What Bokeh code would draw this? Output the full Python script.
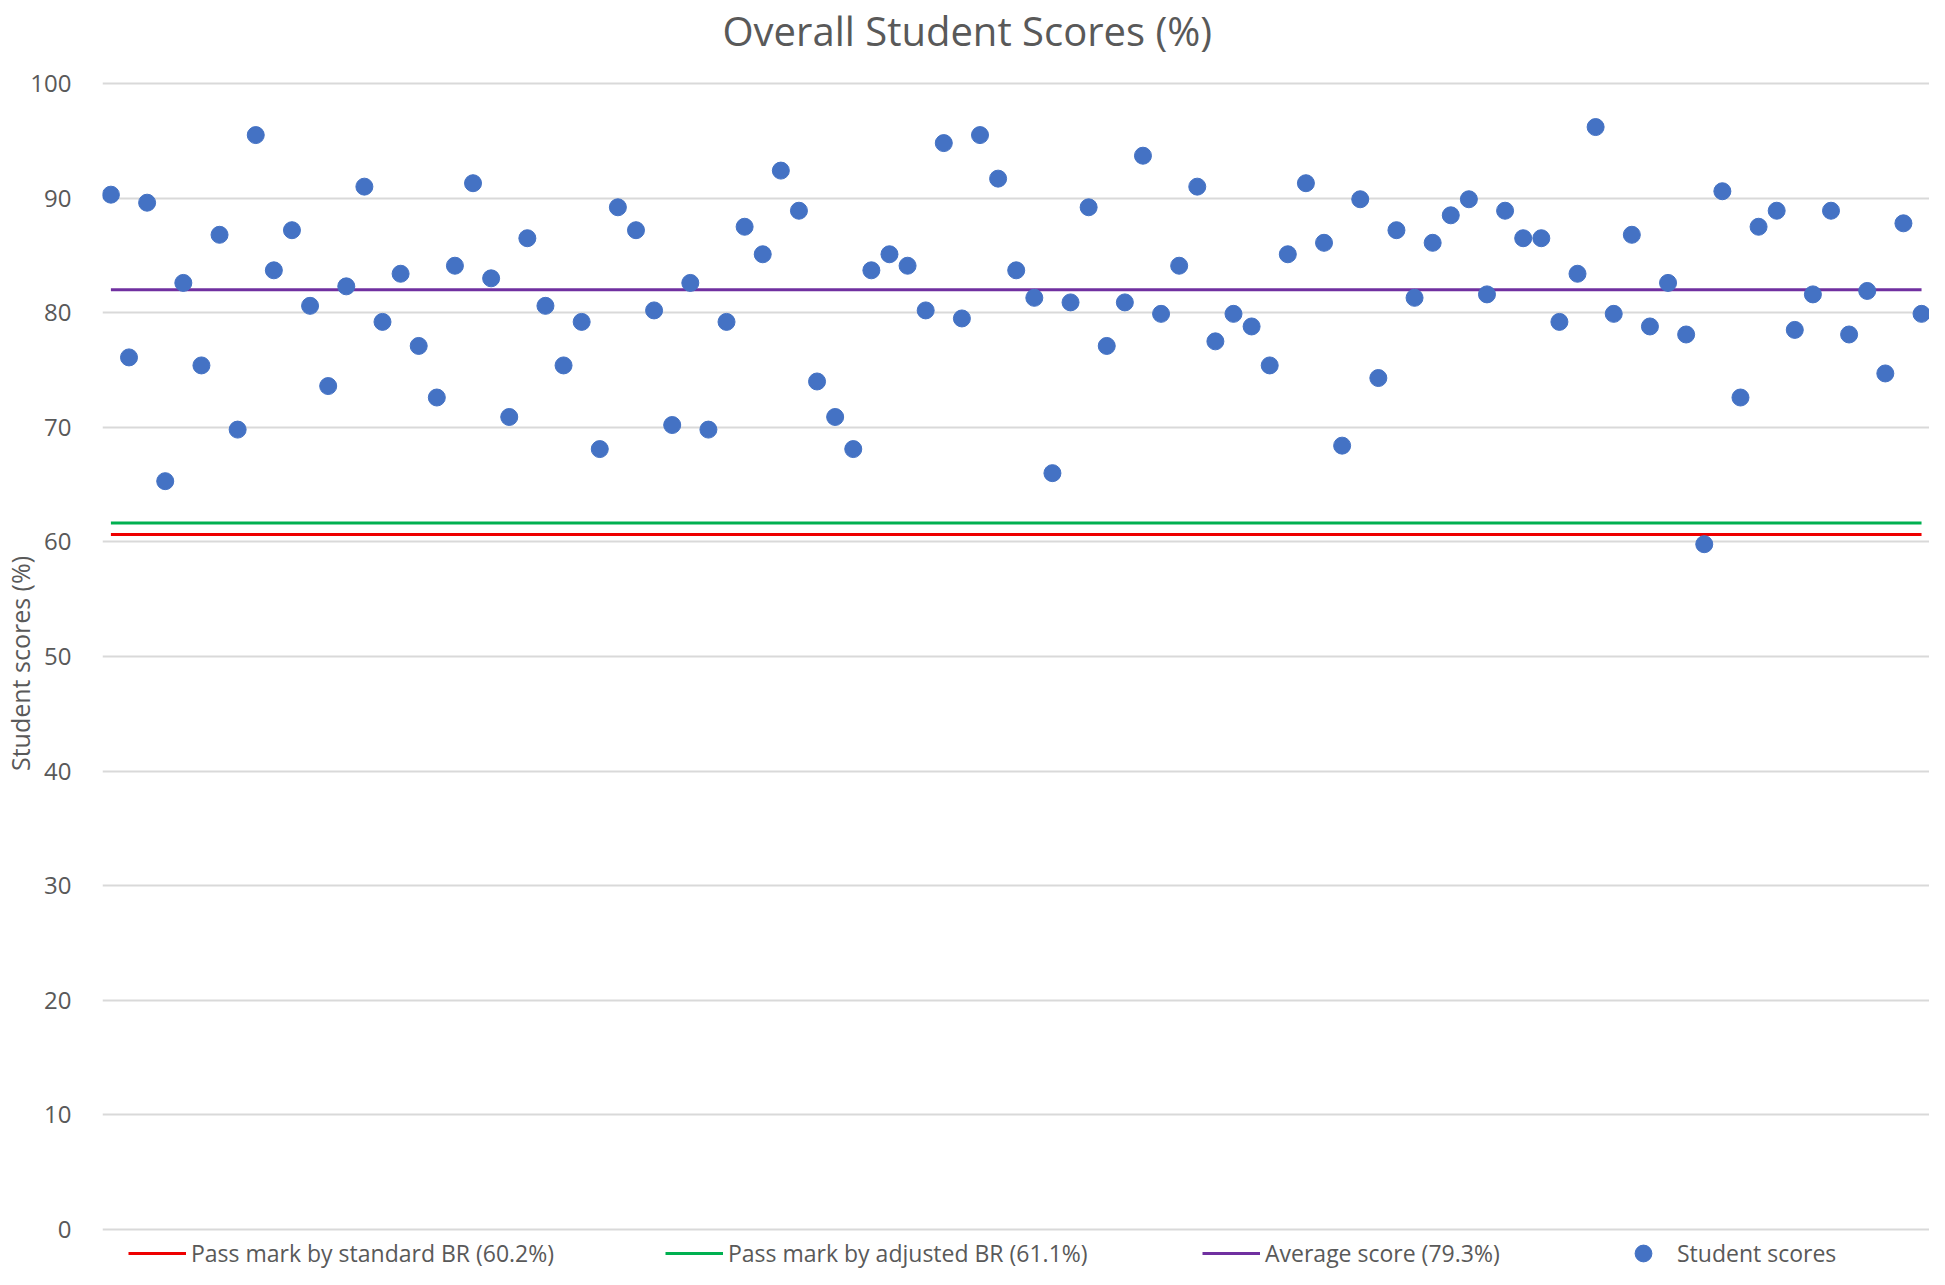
from bokeh.plotting import figure
from bokeh.models import (Range1d, FixedTicker, Legend, LegendItem,
                          ColumnDataSource)
from bokeh.embed import file_html
from bokeh.resources import INLINE

# ---------------- data ----------------
title_text = "Overall Student Scores (%)"
y_axis_title = "Student scores (%)"
y_ticks = [0, 10, 20, 30, 40, 50, 60, 70, 80, 90, 100]

scores = [
    90.3, 76.1, 89.6, 65.3, 82.6, 75.4, 86.8, 69.8, 95.5, 83.7,
    87.2, 80.6, 73.6, 82.3, 91.0, 79.2, 83.4, 77.1, 72.6, 84.1,
    91.3, 83.0, 70.9, 86.5, 80.6, 75.4, 79.2, 68.1, 89.2, 87.2,
    80.2, 70.2, 82.6, 69.8, 79.2, 87.5, 85.1, 92.4, 88.9, 74.0,
    70.9, 68.1, 83.7, 85.1, 84.1, 80.2, 94.8, 79.5, 95.5, 91.7,
    83.7, 81.3, 66.0, 80.9, 89.2, 77.1, 80.9, 93.7, 79.9, 84.1,
    91.0, 77.5, 79.9, 78.8, 75.4, 85.1, 91.3, 86.1, 68.4, 89.9,
    74.3, 87.2, 81.3, 86.1, 88.5, 89.9, 81.6, 88.9, 86.5, 86.5,
    79.2, 83.4, 96.2, 79.9, 86.8, 78.8, 82.6, 78.1, 59.8, 90.6,
    72.6, 87.5, 88.9, 78.5, 81.6, 88.9, 78.1, 81.9, 74.7, 87.8,
    79.9,
]
students = list(range(1, len(scores) + 1))

# reference lines (values as drawn) and their legend labels
standard_br = 60.65
adjusted_br = 61.65
average_score = 82.0
label_standard = "Pass mark by standard BR (60.2%)"
label_adjusted = "Pass mark by adjusted BR (61.1%)"
label_average = "Average score (79.3%)"
label_scores = "Student scores"

# ---------------- styling ----------------
FONT = "Open Sans"
TEXT = "#595959"
BLUE = "#4472C4"
RED = "#EE0000"
GREEN = "#00B050"
PURPLE = "#7030A0"
GRID = "#D9D9D9"

W, H = 1929, 1269
LEFT = 102
TOP = 56

p = figure(width=W, height=H, output_backend="svg", toolbar_location=None,
           title=title_text, x_axis_location=None,
           x_range=Range1d(0.536, 101.44), y_range=Range1d(-3.49, 102.27),
           min_border_left=LEFT, min_border_right=0, min_border_top=TOP,
           min_border_bottom=0)
p.outline_line_color = None
p.background_fill_color = "white"
p.border_fill_color = "white"

p.title.text_font = FONT
p.title.text_font_size = "40px"
p.title.text_font_style = "normal"
p.title.text_color = TEXT
p.title.align = "left"
p.title.offset = 620
p.title.standoff = 0

p.xgrid.grid_line_color = None
p.yaxis.ticker = FixedTicker(ticks=y_ticks)
p.ygrid.grid_line_color = GRID
p.ygrid.grid_line_width = 2
p.yaxis.axis_line_color = None
p.yaxis.major_tick_line_color = None
p.yaxis.minor_tick_line_color = None
p.yaxis.major_label_standoff = 25
p.yaxis.major_label_text_font = FONT
p.yaxis.major_label_text_font_size = "24px"
p.yaxis.major_label_text_color = TEXT
p.yaxis.axis_label = y_axis_title
p.yaxis.axis_label_standoff = -10
p.yaxis.axis_label_text_font = FONT
p.yaxis.axis_label_text_font_size = "25px"
p.yaxis.axis_label_text_font_style = "normal"
p.yaxis.axis_label_text_color = TEXT

src = ColumnDataSource(dict(x=students, y=scores))
x_ends = [students[0], students[-1]]
r_std = p.line(x_ends, [standard_br, standard_br], line_color=RED, line_width=3)
r_adj = p.line(x_ends, [adjusted_br, adjusted_br], line_color=GREEN, line_width=3)
r_avg = p.line(x_ends, [average_score, average_score], line_color=PURPLE, line_width=3)
r_pts = p.scatter("x", "y", source=src, size=17, fill_color=BLUE,
                  line_color=BLUE, marker="circle")

# legends (one per item, placed along the bottom)
leg_x = [26, 563, 1100, 1512]
leg_y = [0, 0, 0, -5]
leg_gh = [20, 20, 20, 42]
for lx, ly, gh, lab, rr in zip(leg_x, leg_y, leg_gh,
                               [label_standard, label_adjusted, label_average, label_scores],
                               [r_std, r_adj, r_avg, r_pts]):
    leg = Legend(items=[LegendItem(label=lab, renderers=[rr])], location=(lx, ly),
                 orientation="horizontal", padding=0, margin=0, spacing=0,
                 glyph_width=58, glyph_height=gh, label_standoff=5,
                 label_text_font=FONT, label_text_font_size="23px",
                 label_text_color=TEXT, border_line_color=None,
                 background_fill_alpha=0)
    p.add_layout(leg, "center")

open("out.html", "w").write(file_html(p, INLINE))
